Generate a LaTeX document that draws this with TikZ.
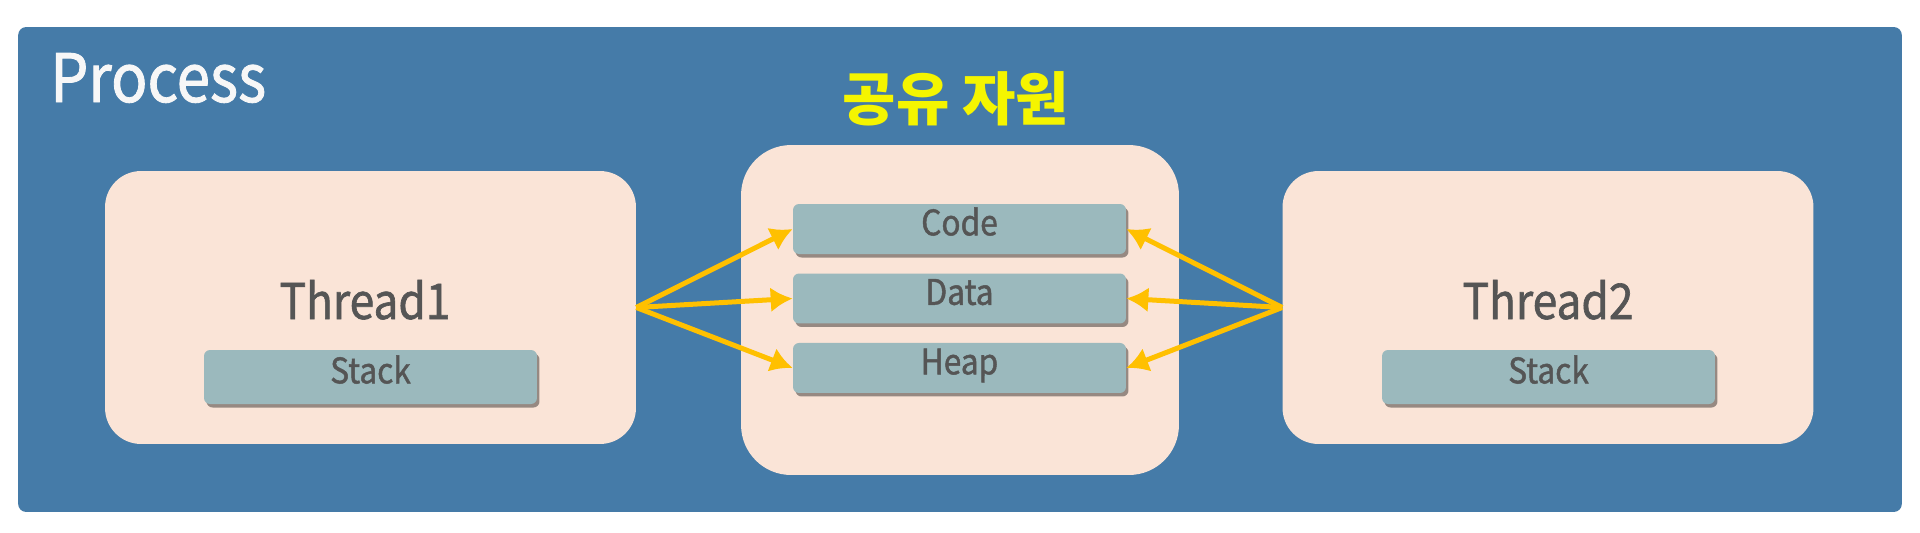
\documentclass[tikz,border=0pt]{standalone}
\usepackage{fontspec}
\setmainfont{Noto Sans CJK KR}[FakeStretch=0.9, FakeBold=1.3]
\newfontfamily\kfont{Noto Sans CJK KR}
\usepackage{tikz}
\usepackage{xcolor}
\usetikzlibrary{shapes.geometric, arrows, arrows.meta, shadows}
\definecolor{procblue}{HTML}{457BA8}
\definecolor{peach}{HTML}{FAE4D7}
\definecolor{segfill}{HTML}{9BB9BD}
\definecolor{shadowc}{HTML}{8C8079}
\definecolor{arrowc}{HTML}{FFC000}
\definecolor{txtgray}{HTML}{555555}
\definecolor{kyellow}{HTML}{F5F500}
\tikzstyle{process} = [rectangle, rounded corners=0.16cm, minimum width=37.68cm, minimum height=9.7cm, fill=procblue]
\tikzstyle{thread} = [rectangle, rounded corners=0.72cm, minimum width=10.62cm, minimum height=5.46cm, fill=peach]
\tikzstyle{shared} = [rectangle, rounded corners=1cm, minimum width=8.76cm, minimum height=6.6cm, fill=peach]
\tikzstyle{seg} = [rectangle, rounded corners=0.12cm, minimum width=6.66cm, minimum height=1cm, fill=segfill, text=txtgray, font=\fontsize{20}{24}\selectfont, text height=0.72em, text depth=0pt, drop shadow={shadow xshift=0.05cm, shadow yshift=-0.07cm, fill=shadowc, opacity=0.9}]
\tikzstyle{stackbox} = [seg, minimum height=1.08cm]
\tikzstyle{tname} = [anchor=base, text=txtgray, font=\fontsize{28}{32}\selectfont]
\tikzstyle{line} = [draw=arrowc, line width=0.1cm, ->, >={Latex[length=0.44cm, width=0.5cm]}]

\begin{document}
\begin{tikzpicture}[x=0.02cm, y=-0.02cm, node distance=1.39cm]
\useasboundingbox[fill=white] (0,0) rectangle (1920,532);

\node [process] (P) at (960,269.5) {};
\node [anchor=base west, inner sep=0, text=white!94!gray, font=\fontsize{38}{42}\selectfont] (Pt) at (50,102) {Process};
\node [anchor=base, text=kyellow, font=\kfont\bfseries\fontsize{33}{38}\selectfont] (St) at (956,120) {공유 자원};

% threads
\node [thread] (T1) at (370.5,307.5) {};
\node [thread] (T2) at (1548,307.5) {};
\node [tname] (L1) at (365,319) {Thread1};
\node [tname] (L2) at (1548,319) {Thread2};
\node [stackbox] (S1) at (370.5,377) {Stack};
\node [stackbox] (S2) at (1548.5,377) {Stack};

% shared resources
\node [shared] (S) at (960,310) {};
\node [seg] (C) at (959.5,229) {Code};
\node [seg, below of=C] (D) {Data};
\node [seg, below of=D] (H) {Heap};

\path [line] (T1.east) -- (C.west);
\path [line] (T1.east) -- (D.west);
\path [line] (T1.east) -- (H.west);
\path [line] (T2.west) -- (C.east);
\path [line] (T2.west) -- (D.east);
\path [line] (T2.west) -- (H.east);

\end{tikzpicture}
\end{document}
